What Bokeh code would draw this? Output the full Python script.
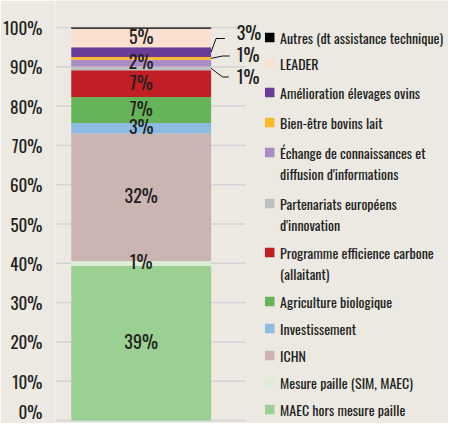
from bokeh.plotting import figure
from bokeh.models import Range1d, FixedTicker, PrintfTickFormatter, ColumnDataSource
from bokeh.core.properties import value
from bokeh.embed import file_html
from bokeh.resources import INLINE

# ---------------- data (bottom to top of the stacked bar) ----------------
CATEGORIES = [
    "MAEC hors mesure paille",
    "Mesure paille (SIM, MAEC)",
    "ICHN",
    "Investissement",
    "Agriculture biologique",
    "Programme efficience carbone (allaitant)",
    "Partenariats européens d'innovation",
    "Échange de connaissances et diffusion d'informations",
    "Bien-être bovins lait",
    "Amélioration élevages ovins",
    "LEADER",
    "Autres (dt assistance technique)",
]
SHARES = [39.4, 1.2, 32.4, 2.7, 6.6, 6.8, 1.0, 1.7, 0.7, 2.5, 4.7, 0.3]
LABELS = ["39%", "1%", "32%", "3%", "7%", "7%", "1%", "2%", "1%", "3%", "5%", ""]
LABEL_INSIDE = [True, True, True, True, True, True, False, True, False, False, True, False]
COLORS = ["#9bd093", "#dcecd6", "#cbb5b3", "#8dbbe2", "#66b45a", "#c01f26",
          "#bdbfc2", "#a98cc4", "#fbb829", "#6a3e98", "#fbdfd0", "#000000"]
LEGEND_LINES = [
    ["MAEC hors mesure paille"],
    ["Mesure paille (SIM, MAEC)"],
    ["ICHN"],
    ["Investissement"],
    ["Agriculture biologique"],
    ["Programme efficience carbone", "(allaitant)"],
    ["Partenariats européens", "d'innovation"],
    ["Échange de connaissances et", "diffusion d'informations"],
    ["Bien-être bovins lait"],
    ["Amélioration élevages ovins"],
    ["LEADER"],
    ["Autres (dt assistance technique)"],
]
Y_TICKS = [0, 10, 20, 30, 40, 50, 60, 70, 80, 90, 100]

# ---------------- layout ----------------
FONT = "Oswald"
BG = "#ece9e3"
TXT = "#231f20"
W, H = 448, 423
LEFT = 49
Y100 = 27.0             # canvas y of 100 %
Y0 = 420.0              # canvas y of 0 %
PX_PCT = (Y0 - Y100) / 100.0
y_end = 100 + Y100 / PX_PCT
y_start = -(H - Y0) / PX_PCT


def cy(py):
    """canvas pixel y -> data value"""
    return (Y0 - py) / PX_PCT


BAR_X, BAR_W = 87, 142
GRID_END = 193
LEG_SQ_X, LEG_TXT_X = 217.5, 228
# legend first-line canvas y per category (same order as CATEGORIES)
LEG_Y = [409, 382, 355, 328, 301, 252, 203, 152, 122, 92, 63, 37]
LINE_GAP = 21

p = figure(width=W, height=H, output_backend="svg", toolbar_location=None,
           x_range=Range1d(0, W - LEFT), y_range=Range1d(y_start, y_end),
           x_axis_location=None, min_border_left=LEFT, min_border_right=0,
           min_border_top=0, min_border_bottom=0)
p.background_fill_color = BG
p.border_fill_color = BG
p.outline_line_color = None
p.grid.visible = False

yax = p.yaxis[0]
yax.ticker = FixedTicker(ticks=Y_TICKS)
yax.formatter = PrintfTickFormatter(format="%d%%")
yax.axis_line_color = None
yax.major_tick_line_color = None
yax.minor_tick_line_color = None
yax.major_label_standoff = 7
yax.major_label_text_font = FONT
yax.major_label_text_font_size = "17px"
yax.major_label_text_color = TXT

# gridlines
p.segment(x0=0, x1=GRID_END, y0=Y_TICKS, y1=Y_TICKS, line_color="#d3d3d8", line_width=1.5)

# stacked bar
bottoms, tops = [], []
acc = 0.0
for s in SHARES:
    bottoms.append(acc)
    acc += s
    tops.append(acc)
mids = [(b + t) / 2 for b, t in zip(bottoms, tops)]
src = ColumnDataSource(dict(bottom=bottoms, top=tops, color=COLORS))
p.vbar(x=BAR_X, width=BAR_W, bottom="bottom", top="top", color="color",
       line_color=None, source=src)

# labels inside bar
in_y = [m for m, ins in zip(mids, LABEL_INSIDE) if ins]
in_t = [l for l, ins in zip(LABELS, LABEL_INSIDE) if ins]
p.text(x=[BAR_X] * len(in_y), y=in_y, text=in_t, text_align="center",
       text_baseline="middle", y_offset=-2, text_font=value(FONT),
       text_font_size="18px", text_color=TXT)

# outside labels with leader lines (elbow/label canvas y)
OUT = {  # index: (elbow y px, elbow x, end x, label y px)
    9: (38, 163, 172, 31),
    8: (55.5, 169.7, 177, 53),
    6: (76.5, 169.7, 176, 75.5),
}
bar_right = BAR_X + BAR_W / 2
for i, (ey, ex, endx, ly) in OUT.items():
    p.line(x=[bar_right, ex, endx], y=[mids[i], cy(ey), cy(ey)], line_color="#111111", line_width=1)
    p.text(x=[184], y=[cy(ly)], text=[LABELS[i]], text_align="left", text_baseline="middle",
           text_font=value(FONT), text_font_size="18px", text_color=TXT)

# legend
p.scatter(x=[LEG_SQ_X] * len(CATEGORIES), y=[cy(v) for v in LEG_Y],
          marker="square", size=9.5, color=COLORS, line_color=None)
for lines, py in zip(LEGEND_LINES, LEG_Y):
    for k, ln in enumerate(lines):
        p.text(x=[LEG_TXT_X], y=[cy(py + k * LINE_GAP)], text=[ln],
               text_align="left", text_baseline="middle", text_font=value(FONT),
               text_font_size="14px", text_color=TXT)

open("out.html", "w").write(file_html(p, INLINE))
